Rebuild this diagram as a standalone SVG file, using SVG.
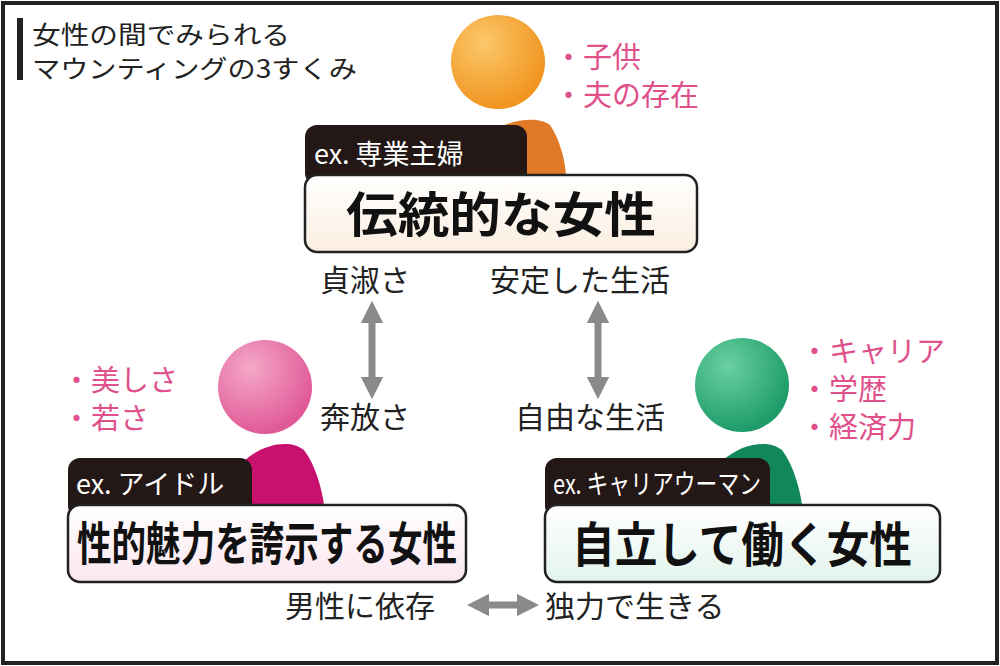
<svg xmlns="http://www.w3.org/2000/svg" width="1000" height="666" viewBox="0 0 1000 666">
<defs>
<style>
text{font-family:"Noto Sans CJK JP","Noto Sans",sans-serif}
.t{font-size:30px;fill:#222}
.p{font-size:29px;fill:#e0508a}
.tab{font-size:27px;fill:#fff}
.m{font-size:48px;font-weight:bold;fill:#111;text-anchor:middle}
.box{stroke:#222;stroke-width:2.5}
.ar{stroke:#8a8a8a;stroke-width:7;fill:none;marker-start:url(#a);marker-end:url(#a)}
</style>
<marker id="a" viewBox="0 0 10 10" refX="5" refY="5" markerWidth="3.2" markerHeight="3.2" orient="auto-start-reverse"><path d="M0,0L10,5L0,10z" fill="#8a8a8a"/></marker>
<radialGradient id="ho" cx="0.35" cy="0.3" r="0.7"><stop offset="0" stop-color="#fbc76a"/><stop offset="1" stop-color="#f19520"/></radialGradient>
<radialGradient id="hp" cx="0.35" cy="0.3" r="0.7"><stop offset="0" stop-color="#f4a8c8"/><stop offset="1" stop-color="#e15a98"/></radialGradient>
<radialGradient id="hg" cx="0.35" cy="0.3" r="0.7"><stop offset="0" stop-color="#6ad0a0"/><stop offset="1" stop-color="#1e9c6a"/></radialGradient>
<linearGradient id="bo" x1="0" y1="0" x2="0" y2="1"><stop offset="0" stop-color="#fff"/><stop offset="1" stop-color="#fbeee0"/></linearGradient>
<linearGradient id="bp" x1="0" y1="0" x2="0" y2="1"><stop offset="0" stop-color="#fff"/><stop offset="1" stop-color="#fbe6ef"/></linearGradient>
<linearGradient id="bg" x1="0" y1="0" x2="0" y2="1"><stop offset="0" stop-color="#fff"/><stop offset="1" stop-color="#e3f4ec"/></linearGradient>
</defs>
<rect x="0" y="0" width="1000" height="666" fill="#fff"/>
<rect x="3" y="3" width="994" height="660" fill="none" stroke="#222" stroke-width="4"/>
<g id="title">
<rect x="17" y="18" width="6" height="62" fill="#222"/>
<text x="32" y="44" style="font-size:25px;fill:#222" textLength="258" lengthAdjust="spacingAndGlyphs">女性の間でみられる</text>
<text x="32" y="78" style="font-size:25px;fill:#222" textLength="325" lengthAdjust="spacingAndGlyphs">マウンティングの3すくみ</text>
</g>
<g id="traditional">
<path d="M462,175 C466,128 530,110 550,125 C560,140 565,160 566,175 Z" fill="#e07a28"/>
<circle cx="498" cy="62" r="47" fill="url(#ho)"/>
<text class="p" x="554" y="68">・子供</text>
<text class="p" x="554" y="106">・夫の存在</text>
<rect x="305" y="125" width="222" height="60" rx="12" fill="#231815"/>
<text class="tab" x="314" y="164">ex. 専業主婦</text>
<rect class="box" x="305" y="175" width="392" height="77" rx="12" fill="url(#bo)"/>
<text class="m" x="501" y="232" textLength="310" lengthAdjust="spacingAndGlyphs">伝統的な女性</text>
</g>
<g id="sexy">
<path d="M222,505 C226,455 282,432 304,450 C316,466 322,490 324,505 Z" fill="#c8106e"/>
<circle cx="265" cy="387" r="47" fill="url(#hp)"/>
<text class="p" x="62" y="391">・美しさ</text>
<text class="p" x="62" y="429">・若さ</text>
<rect x="68" y="458" width="184" height="60" rx="12" fill="#231815"/>
<text class="tab" x="76" y="494">ex. アイドル</text>
<rect class="box" x="68" y="505" width="398" height="77" rx="12" fill="url(#bp)"/>
<text class="m" x="267" y="560" style="font-size:46px" textLength="380" lengthAdjust="spacingAndGlyphs">性的魅力を誇示する女性</text>
</g>
<g id="career">
<path d="M700,505 C704,455 760,432 782,450 C794,466 800,490 802,505 Z" fill="#12885a"/>
<circle cx="742" cy="385" r="47" fill="url(#hg)"/>
<text class="p" x="800" y="362">・キャリア</text>
<text class="p" x="800" y="400">・学歴</text>
<text class="p" x="800" y="438">・経済力</text>
<rect x="545" y="458" width="225" height="60" rx="12" fill="#231815"/>
<text class="tab" x="553" y="494" textLength="208" lengthAdjust="spacingAndGlyphs">ex. キャリアウーマン</text>
<rect class="box" x="545" y="505" width="395" height="77" rx="12" fill="url(#bg)"/>
<text class="m" x="742" y="562" textLength="340" lengthAdjust="spacingAndGlyphs">自立して働く女性</text>
</g>
<g id="connectors">
<line class="ar" x1="372" y1="312" x2="372" y2="388"/>
<line class="ar" x1="598" y1="312" x2="598" y2="388"/>
<line class="ar" x1="478" y1="605" x2="528" y2="605"/>
</g>
<g id="labels">
<text class="t" x="320" y="291">貞淑さ</text>
<text class="t" x="490" y="291">安定した生活</text>
<text class="t" x="320" y="428">奔放さ</text>
<text class="t" x="515" y="428">自由な生活</text>
<text class="t" x="285" y="617">男性に依存</text>
<text class="t" x="545" y="617">独力で生きる</text>
</g>
</svg>
